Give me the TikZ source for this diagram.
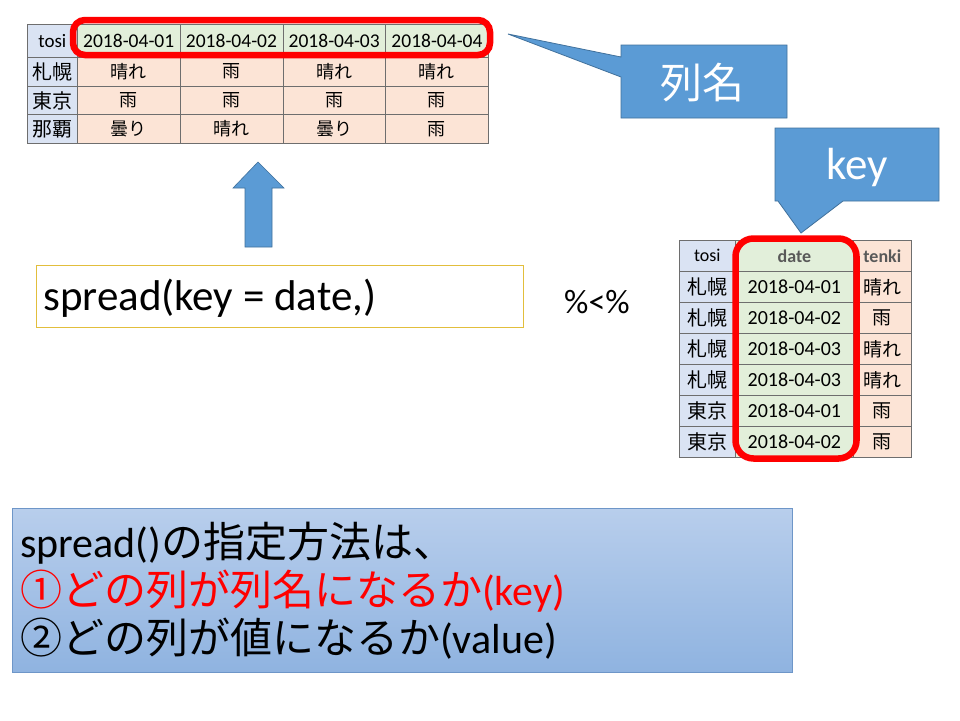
\documentclass[tikz,border=0pt]{standalone}
\usepackage{fontspec}
\setmainfont{Carlito}
\newfontfamily\jp{Noto Sans CJK JP}
\definecolor{cellblue}{RGB}{218,227,243}
\definecolor{cellgreen}{RGB}{226,239,218}
\definecolor{cellpeach}{RGB}{252,228,214}
\definecolor{gridc}{RGB}{110,110,110}
\definecolor{hdrgray}{RGB}{89,89,89}
\definecolor{calfill}{RGB}{91,155,213}
\definecolor{caldraw}{RGB}{65,113,156}
\definecolor{goldc}{RGB}{226,190,60}
\definecolor{bbtop}{RGB}{184,206,236}
\definecolor{bbbot}{RGB}{143,179,224}
\definecolor{bbdraw}{RGB}{110,150,200}
\tikzset{
  cell/.style={draw=gridc, line width=0.7pt, inner sep=0pt, anchor=north west},
  tcell/.style={cell, minimum height=28.7pt, font=\jp\fontsize{18}{20}\selectfont},
  rcell/.style={cell, minimum height=31pt, font=\fontsize{18}{20}\selectfont},
  redbox/.style={draw=red, line width=6.5pt},
  callout/.style={fill=calfill, draw=caldraw, line width=0.8pt},
  bigtext/.style={inner sep=0pt, font=\fontsize{42}{48}\selectfont}
}
\begin{document}
\begin{tikzpicture}[x=1pt,y=-1pt]
\useasboundingbox (0,0) rectangle (960,720);
\fill[white] (0,0) rectangle (960,720);

% ---------- top table ----------
\node[cell, fill=cellblue, minimum width=50pt, minimum height=33pt,
      font=\fontsize{19}{21}\selectfont] (th0) at (27,24) {tosi};
\foreach \c/\d in {1/2018-04-01,2/2018-04-02,3/2018-04-03,4/2018-04-04}
  \node[cell, fill=cellgreen, minimum width=102.75pt, minimum height=33pt,
        font=\fontsize{19.5}{21}\selectfont] (th\c) at ({77+(\c-1)*102.75},24) {\d};
\foreach \r/\city/\va/\vb/\vc/\vd in {1/札幌/晴れ/雨/晴れ/晴れ,2/東京/雨/雨/雨/雨,3/那覇/曇り/晴れ/曇り/雨}{
  \node[tcell, fill=cellblue, minimum width=50pt, font=\jp\fontsize{20}{22}\selectfont]
        (tr\r c0) at (27,{57+(\r-1)*28.7}) {\city};
  \node[tcell, fill=cellpeach, minimum width=102.75pt] (tr\r c1) at (77,{57+(\r-1)*28.7}) {\va};
  \node[tcell, fill=cellpeach, minimum width=102.75pt] (tr\r c2) at (179.75,{57+(\r-1)*28.7}) {\vb};
  \node[tcell, fill=cellpeach, minimum width=102.75pt] (tr\r c3) at (282.5,{57+(\r-1)*28.7}) {\vc};
  \node[tcell, fill=cellpeach, minimum width=102.75pt] (tr\r c4) at (385.25,{57+(\r-1)*28.7}) {\vd};
}
\draw[redbox, rounded corners=12pt] (73,20) rectangle (490,55);

% ---------- callout 列名 ----------
\path[callout] (621,45) -- (787,45) -- (787,118) -- (621,118) -- (621,77) -- (508,34) -- (621,57) -- cycle;
\node[text=white, font=\jp\fontsize{42}{48}\selectfont, inner sep=0pt] (lm) at (702,83) {列名};

% ---------- callout key ----------
\path[callout] (775,128) -- (939,128) -- (939,201) -- (843,201) -- (801,233) -- (778,201) -- (775,201) -- cycle;
\node[text=white, font=\fontsize{45}{50}\selectfont, inner sep=0pt, anchor=base] (kl) at (857,179) {key};

% ---------- up arrow ----------
\path[fill=calfill, draw=caldraw, line width=0.6pt]
  (258,162) -- (284,188) -- (272,188) -- (272,247) -- (245,247) -- (245,188) -- (233,188) -- cycle;

% ---------- spread box ----------
\node[draw=goldc, line width=0.8pt, anchor=north west, minimum width=487pt, minimum height=62pt, inner sep=0pt] (sp) at (36,265) {};
\node[bigtext, font=\fontsize{43}{48}\selectfont, anchor=base west] (spt) at (43,310) {spread(key = date,)};
\node[inner sep=0pt, font=\fontsize{34}{38}\selectfont] (pipe) at (597,302) {\%<\%};

% ---------- right table ----------
\node[rcell, fill=cellblue, minimum width=56pt] (rh0) at (679,240) {tosi};
\node[rcell, fill=cellgreen, minimum width=118pt, text=hdrgray, font=\bfseries\fontsize{18}{20}\selectfont] (rh1) at (735,240) {date};
\node[rcell, fill=cellpeach, minimum width=58pt, text=hdrgray, font=\bfseries\fontsize{18}{20}\selectfont] (rh2) at (853,240) {tenki};
\foreach \r/\city/\dt/\tk in {1/札幌/2018-04-01/晴れ,2/札幌/2018-04-02/雨,3/札幌/2018-04-03/晴れ,4/札幌/2018-04-03/晴れ,5/東京/2018-04-01/雨,6/東京/2018-04-02/雨}{
  \node[rcell, fill=cellblue, minimum width=56pt, font=\jp\fontsize{20}{22}\selectfont] (rr\r c0) at (679,{240+\r*31}) {\city};
  \node[rcell, fill=cellgreen, minimum width=118pt, font=\fontsize{20}{22}\selectfont] (rr\r c1) at (735,{240+\r*31}) {\dt};
  \node[rcell, fill=cellpeach, minimum width=58pt, font=\jp\fontsize{19}{21}\selectfont] (rr\r c2) at (853,{240+\r*31}) {\tk};
}
\draw[redbox, rounded corners=18pt] (735.5,238.5) rectangle (856.5,458.5);

% ---------- bottom box ----------
\node[anchor=north west, minimum width=780pt, minimum height=164pt, inner sep=0pt,
      top color=bbtop, bottom color=bbbot, draw=bbdraw, line width=0.8pt] (bb) at (12,508) {};
\node[bigtext, anchor=base west] (l1) at (20,557) {spread(){\jp の指定方法は、}};
\node[bigtext, anchor=base west, text=red] (l2) at (20,605) {{\jp ①どの列が列名になるか}(key)};
\node[bigtext, anchor=base west] (l3) at (20,653) {{\jp ②どの列が値になるか}(value)};
\end{tikzpicture}
\end{document}
